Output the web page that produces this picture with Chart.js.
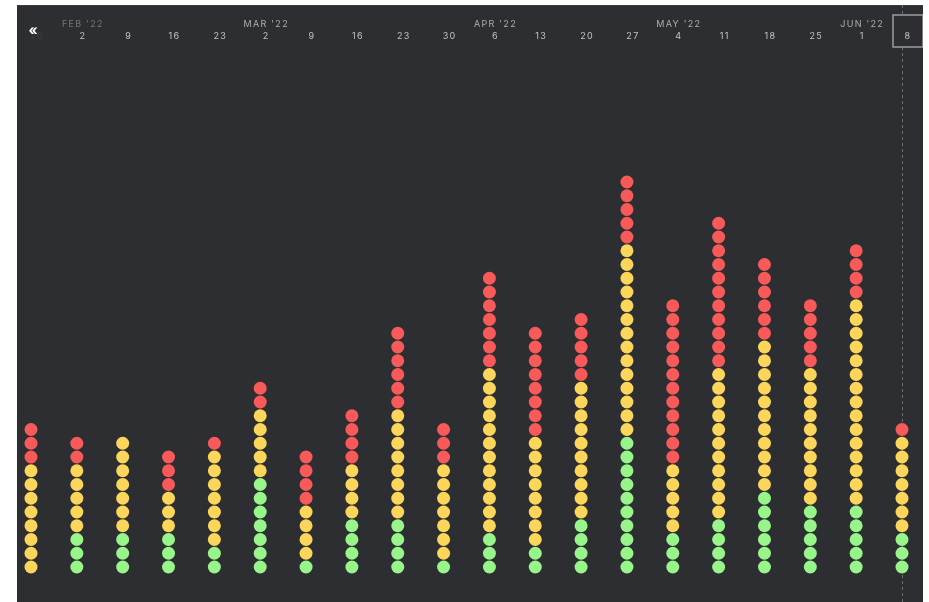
<!DOCTYPE html>
<html>
<head>
<meta charset="utf-8">
<script src="https://cdn.jsdelivr.net/npm/chart.js@4.4.1/dist/chart.umd.min.js"></script>
<style>
  html, body { margin: 0; padding: 0; background: #ffffff; }
  #panel { position: absolute; left: 17px; top: 5px; width: 906px; height: 597px; }
</style>
</head>
<body>
<div id="panel"><canvas id="chart"></canvas></div>
<script>
const dayLabels = ['26', '2', '9', '16', '23', '2', '9', '16', '23', '30', '6', '13', '20', '27', '4', '11', '18', '25', '1', '8'];
const monthLabels = ['', "FEB '22", '', '', '', "MAR '22", '', '', '', '', "APR '22", '', '', '', "MAY '22", '', '', '', "JUN '22", ''];

// dots per week, stacked bottom to top: green, yellow, red
const greenCounts = [0, 3, 3, 3, 2, 7, 1, 4, 4, 1, 3, 2, 4, 10, 3, 4, 6, 5, 5, 3];
const yellowCounts = [8, 5, 7, 3, 7, 5, 4, 4, 8, 7, 12, 8, 10, 14, 5, 11, 11, 10, 15, 7];
const redCounts = [3, 2, 0, 3, 1, 2, 4, 4, 6, 3, 7, 8, 5, 5, 12, 11, 6, 5, 4, 1];

const PANEL_BG = '#2d2e32';
const FONT = 'Inter, "DejaVu Sans", sans-serif';
const LAST = dayLabels.length - 1;

function stackPoints(counts, below) {
  const pts = [];
  counts.forEach((n, i) => {
    const start = below ? below[i] : 0;
    for (let k = 0; k < n; k++) {
      pts.push({ x: i, y: start + k });
    }
  });
  return pts;
}

const greenPts = stackPoints(greenCounts, null);
const yellowPts = stackPoints(yellowCounts, greenCounts);
const redPts = stackPoints(redCounts, greenCounts.map((g, i) => g + yellowCounts[i]));

const panelPlugin = {
  id: 'panelDecor',
  beforeDraw(chart) {
    const ctx = chart.ctx;
    const lastX = chart.scales.x.getPixelForValue(LAST);
    ctx.save();
    ctx.fillStyle = PANEL_BG;
    ctx.fillRect(0, 0, chart.width, chart.height);
    ctx.fillStyle = '#3a3b3f';
    ctx.fillRect(0, 0, chart.width, 1);
    // dashed marker for current week
    ctx.strokeStyle = '#6c6d72';
    ctx.lineWidth = 1;
    ctx.setLineDash([3, 3]);
    ctx.beginPath();
    ctx.moveTo(Math.round(lastX) + 0.5, 0);
    ctx.lineTo(Math.round(lastX) + 0.5, chart.height);
    ctx.stroke();
    ctx.setLineDash([]);
    // box around current week label
    const bx = Math.round(lastX) - 9;
    ctx.fillStyle = PANEL_BG;
    ctx.fillRect(bx, 10, 30, 32);
    ctx.strokeStyle = '#9c9da1';
    ctx.lineWidth = 1.5;
    ctx.strokeRect(bx, 10, 30, 32);
    ctx.restore();
    ctx.letterSpacing = '1.3px';
  },
  afterDraw(chart) {
    const ctx = chart.ctx;
    ctx.save();
    ctx.letterSpacing = '0px';
    ctx.fillStyle = '#ffffff';
    ctx.font = 'bold 14px ' + FONT;
    ctx.textAlign = 'center';
    ctx.textBaseline = 'middle';
    ctx.fillText('\u00AB', 16, 26);
    ctx.restore();
  }
};

const dotOpts = { showLine: false, clip: false, pointRadius: 6.5, pointHoverRadius: 6.5, pointBorderWidth: 0 };

function labelAxis(labels, weight, padding, height, colorFn) {
  return {
    type: 'linear',
    position: 'top',
    min: 0,
    max: LAST,
    weight: weight,
    grid: { display: false, drawTicks: false },
    border: { display: false },
    ticks: {
      stepSize: 1,
      autoSkip: false,
      maxRotation: 0,
      labelOffset: 6,
      padding: padding,
      font: { family: FONT, size: 9 },
      color: colorFn,
      callback: (v) => labels[v]
    },
    afterFit(scale) {
      scale.height = height;
      scale.paddingLeft = 0;
      scale.paddingRight = 0;
    }
  };
}

new Chart(document.getElementById('chart'), {
  type: 'scatter',
  data: {
    datasets: [
      Object.assign({ label: 'green', data: greenPts, pointBackgroundColor: '#98f58a', backgroundColor: '#98f58a' }, dotOpts),
      Object.assign({ label: 'yellow', data: yellowPts, pointBackgroundColor: '#fcd65a', backgroundColor: '#fcd65a' }, dotOpts),
      Object.assign({ label: 'red', data: redPts, pointBackgroundColor: '#f85a5a', backgroundColor: '#f85a5a' }, dotOpts)
    ]
  },
  options: {
    responsive: true,
    maintainAspectRatio: false,
    animation: false,
    layout: { padding: { left: 14, right: 21, top: 0, bottom: 7.5 } },
    plugins: { legend: { display: false }, tooltip: { enabled: false } },
    scales: {
      x: labelAxis(dayLabels, 0, 16.85, 28.25, (c) => (c.index === 0 ? '#3e3f44' : '#c4c4c6')),
      months: labelAxis(monthLabels, 1, 0.6, 25, (c) => (c.index === 1 ? '#75767a' : '#acadb0')),
      y: {
        display: false,
        min: -2,
        max: 37
      }
    }
  },
  plugins: [panelPlugin]
});
</script>
</body>
</html>
